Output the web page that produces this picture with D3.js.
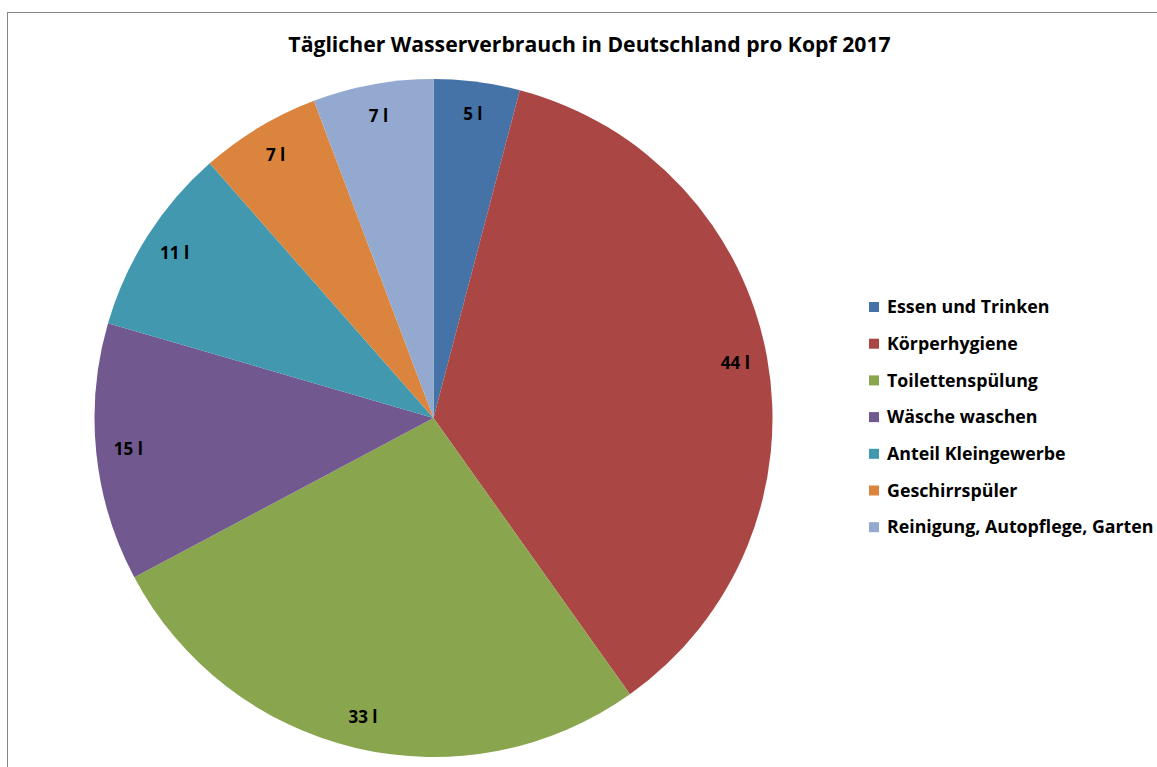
<!DOCTYPE html>
<html>
<head>
<meta charset="utf-8">
<script src="https://cdn.jsdelivr.net/npm/d3@7"></script>
<style>
  body { margin: 0; background: #fff; }
  svg { display: block; }
</style>
</head>
<body>
<div class="pie"></div>
<script>
var width = 1157;
var height = 767;

var categories = ['Essen und Trinken', 'Körperhygiene', 'Toilettenspülung', 'Wäsche waschen',
  'Anteil Kleingewerbe', 'Geschirrspüler', 'Reinigung, Autopflege, Garten'];
var values = [5, 44, 33, 15, 11, 7, 7];
var labels = ['5 l', '44 l', '33 l', '15 l', '11 l', '7 l', '7 l'];
var colors = ['#4572A7', '#AA4643', '#89A54E', '#71588F', '#4198AF', '#DB843D', '#93A9CF'];

var font = '"Open Sans", "DejaVu Sans", sans-serif';
var radius = 339;
var cx = 433.5, cy = 418;

var data = categories.map((c, i) => ({name: c, value: values[i], label: labels[i], color: colors[i]}));

var pie = d3.pie().sort(null).value(d => d.value);
var arc = d3.arc().innerRadius(0).outerRadius(radius);
var arcLabel = d3.arc().innerRadius(radius * 0.905).outerRadius(radius * 0.905);
var arcs = pie(data);

var svg = d3.select('.pie').append('svg')
  .attr('width', width).attr('height', height);

// chart frame (runs off the right and bottom edges)
svg.append('rect')
  .attr('x', 7.5).attr('y', 12.5)
  .attr('width', width + 20).attr('height', height + 20)
  .attr('fill', 'none').attr('stroke', '#868686').attr('stroke-width', 1);

svg.append('text')
  .attr('x', 589.5).attr('y', 52)
  .attr('text-anchor', 'middle')
  .attr('font-family', font).attr('font-weight', 'bold')
  .style('font-size', '21.2px')
  .text('Täglicher Wasserverbrauch in Deutschland pro Kopf 2017');

var g = svg.append('g')
  .attr('transform', `translate(${cx}, ${cy})`);

g.selectAll('path')
  .data(arcs)
  .enter().append('path')
  .attr('fill', d => d.data.color)
  .attr('d', arc);

g.selectAll('text')
  .data(arcs)
  .enter().append('text')
  .attr('transform', d => `translate(${arcLabel.centroid(d)})`)
  .attr('text-anchor', 'middle')
  .attr('dy', '0.35em')
  .attr('font-family', font).attr('font-weight', 'bold')
  .style('font-size', '17px')
  .attr('fill', '#000')
  .text(d => d.data.label);

var legend = svg.append('g').attr('transform', 'translate(869, 307)');
var row = legend.selectAll('g')
  .data(data)
  .enter().append('g')
  .attr('transform', (d, i) => `translate(0, ${i * 36.7})`);

row.append('rect')
  .attr('x', 0).attr('y', -5).attr('width', 10).attr('height', 10)
  .attr('fill', d => d.color);

row.append('text')
  .attr('x', 18).attr('dy', '0.35em')
  .attr('font-family', font).attr('font-weight', 'bold')
  .style('font-size', '17.8px')
  .attr('fill', '#000')
  .text(d => d.name);

svg.node();
</script>
</body>
</html>
